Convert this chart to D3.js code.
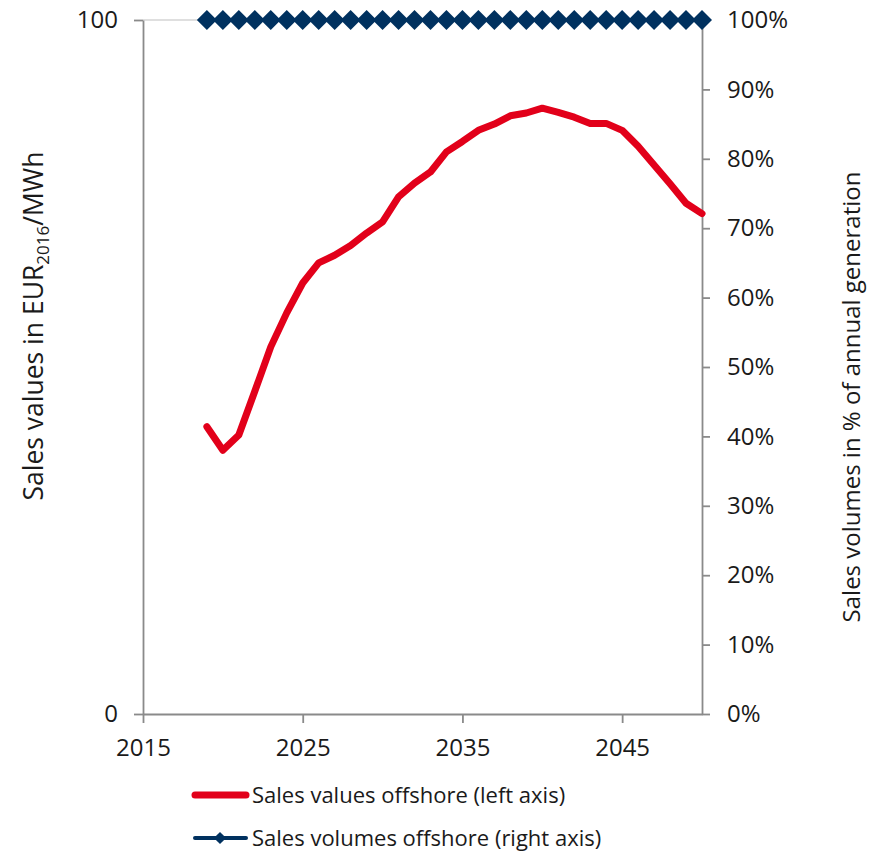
<!DOCTYPE html>
<html>
<head>
<meta charset="utf-8">
<script src="https://cdn.jsdelivr.net/npm/d3@7"></script>
<style>
  body { margin: 0; background: #fff; }
  svg text { font-family: "Open Sans", sans-serif; fill: #1a1a1a; }
</style>
</head>
<body>
<div id="chart"></div>
<script>
// years shown on the chart
var years = [2019, 2020, 2021, 2022, 2023, 2024, 2025, 2026, 2027, 2028, 2029, 2030,
             2031, 2032, 2033, 2034, 2035, 2036, 2037, 2038, 2039, 2040, 2041, 2042,
             2043, 2044, 2045, 2046, 2047, 2048, 2049, 2050];
// EUR2016/MWh, left axis
var sales_values = [41.4, 38.0, 40.2, 46.5, 52.9, 57.8, 62.1, 65.0, 66.1, 67.5, 69.3, 70.9,
                    74.5, 76.5, 78.1, 81.0, 82.5, 84.1, 85.0, 86.2, 86.6, 87.3, 86.7, 86.0,
                    85.1, 85.1, 84.1, 81.8, 79.1, 76.4, 73.6, 72.1];
// share of annual generation, right axis
var sales_volumes = [1, 1, 1, 1, 1, 1, 1, 1, 1, 1, 1, 1,
                     1, 1, 1, 1, 1, 1, 1, 1, 1, 1, 1, 1,
                     1, 1, 1, 1, 1, 1, 1, 1];
var x_ticks = [2015, 2025, 2035, 2045];
var left_ticks = [0, 100];
var right_ticks = [0, 0.1, 0.2, 0.3, 0.4, 0.5, 0.6, 0.7, 0.8, 0.9, 1];

var legend_items = ["Sales values offshore (left axis)", "Sales volumes offshore (right axis)"];

var totalWidth = 875, totalHeight = 852;
var plot = {left: 143, right: 702, top: 20, bottom: 714};
var red = "#e2001a", navy = "#00315f", axisColor = "#8a8a8a";

var svg = d3.select("#chart").append("svg")
    .attr("width", totalWidth)
    .attr("height", totalHeight);

var x_scale = d3.scaleLinear().domain([2015, 2050]).range([plot.left, plot.right]);
var y_left = d3.scaleLinear().domain([0, 100]).range([plot.bottom, plot.top]);
var y_right = d3.scaleLinear().domain([0, 1]).range([plot.bottom, plot.top]);

// light gridline at the top value
svg.append("line")
    .attr("x1", plot.left).attr("x2", plot.right)
    .attr("y1", y_left(100)).attr("y2", y_left(100))
    .attr("stroke", "#d4d4d4").attr("stroke-width", 1.5);

function styleAxis(g) {
    g.attr("font-family", null).attr("font-size", null);
    g.selectAll(".domain, .tick line").attr("stroke", axisColor).attr("stroke-width", 1.8);
    g.selectAll("text").attr("font-size", "24px").attr("fill", "#1a1a1a");
}

var xAxis = d3.axisBottom(x_scale).tickValues(x_ticks).tickSize(9).tickSizeOuter(0)
    .tickFormat(d3.format("d")).tickPadding(16);
svg.append("g").attr("transform", "translate(0," + plot.bottom + ")").call(xAxis).call(styleAxis);

var yAxisL = d3.axisLeft(y_left).tickValues(left_ticks).tickSize(9).tickSizeOuter(0).tickPadding(16);
svg.append("g").attr("transform", "translate(" + plot.left + ",0)").call(yAxisL).call(styleAxis);

var yAxisR = d3.axisRight(y_right).tickValues(right_ticks).tickSize(8).tickSizeOuter(0)
    .tickFormat(d3.format(".0%")).tickPadding(17);
svg.append("g").attr("transform", "translate(" + plot.right + ",0)").call(yAxisR).call(styleAxis);

// volumes series (right axis)
var vol = years.map(function(y, i) { return {year: y, v: sales_volumes[i]}; });
svg.append("path")
    .datum(vol)
    .attr("fill", "none").attr("stroke", navy).attr("stroke-width", 3)
    .attr("d", d3.line().x(function(d) { return x_scale(d.year); }).y(function(d) { return y_right(d.v); }));
svg.append("g").selectAll("path")
    .data(vol).enter().append("path")
    .attr("d", d3.symbol(d3.symbolSquare, 200))
    .attr("transform", function(d) { return "translate(" + x_scale(d.year) + "," + y_right(d.v) + ") rotate(45)"; })
    .attr("fill", navy);

// values series (left axis)
var val = years.map(function(y, i) { return {year: y, v: sales_values[i]}; });
svg.append("path")
    .datum(val)
    .attr("fill", "none").attr("stroke", red).attr("stroke-width", 7)
    .attr("stroke-linejoin", "round").attr("stroke-linecap", "round")
    .attr("d", d3.line().x(function(d) { return x_scale(d.year); }).y(function(d) { return y_left(d.v); }));

// axis titles
var lt = svg.append("text")
    .attr("transform", "translate(43,326) rotate(-90)")
    .attr("text-anchor", "middle")
    .attr("font-size", "26.5px");
lt.append("tspan").text("Sales values in EUR");
lt.append("tspan").attr("font-size", "17px").attr("dy", 6).text("2016");
lt.append("tspan").attr("dy", -6).text("/MWh");

svg.append("text")
    .attr("transform", "translate(860,397) rotate(-90)")
    .attr("text-anchor", "middle")
    .attr("font-size", "24px")
    .text("Sales volumes in % of annual generation");

// legend
var legend = svg.append("g");
legend.append("line")
    .attr("x1", 195).attr("x2", 246).attr("y1", 795).attr("y2", 795)
    .attr("stroke", red).attr("stroke-width", 7).attr("stroke-linecap", "round");
legend.append("line")
    .attr("x1", 195).attr("x2", 246).attr("y1", 838).attr("y2", 838)
    .attr("stroke", navy).attr("stroke-width", 4).attr("stroke-linecap", "round");
legend.append("path")
    .attr("d", d3.symbol(d3.symbolSquare, 75))
    .attr("transform", "translate(220,838) rotate(45)")
    .attr("fill", navy);
legend.selectAll("text.lg")
    .data(legend_items).enter().append("text")
    .attr("class", "lg")
    .attr("x", 252)
    .attr("y", function(d, i) { return 803 + i * 43; })
    .attr("font-size", "22px")
    .text(function(d) { return d; });
</script>
</body>
</html>
